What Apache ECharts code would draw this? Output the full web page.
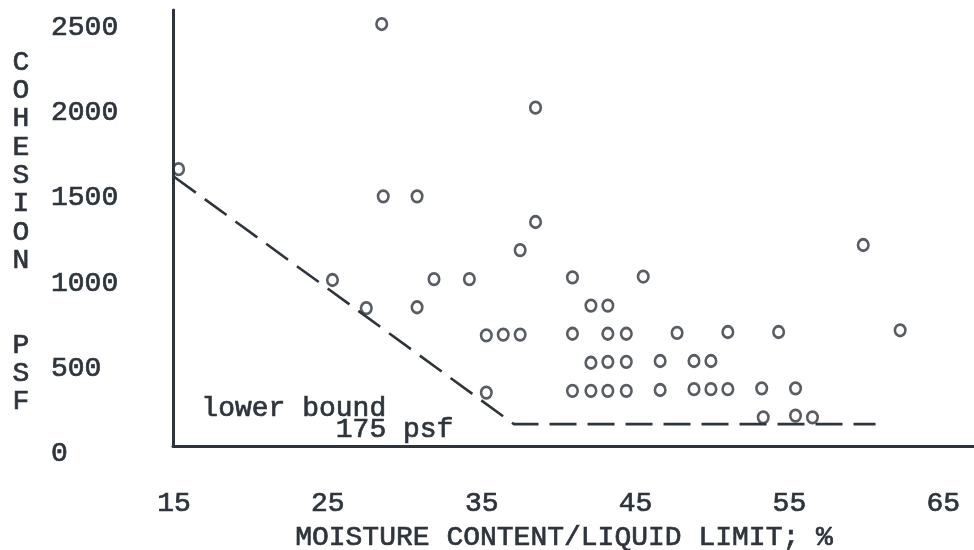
<!DOCTYPE html>
<html>
<head>
<meta charset="utf-8">
<title>Cohesion vs moisture content</title>
<script src="https://cdn.jsdelivr.net/npm/echarts@6/dist/echarts.min.js"></script>
<style>
  html, body { margin: 0; padding: 0; background: #ffffff; }
  #chart { width: 974px; height: 550px; }
</style>
</head>
<body>
<div id="chart"></div>
<script>
// Moisture content / liquid limit (%) of each test
const moisture = [
  15.3, 28.5, 38.5, 28.6, 30.8, 38.5, 37.5,
  25.3, 31.9, 34.2, 40.9, 45.5, 59.8,
  27.5, 30.8, 42.1, 43.2,
  35.3, 36.4, 37.5, 40.9, 43.2, 44.4, 47.7, 51.0, 54.3, 62.2,
  42.1, 43.2, 44.4, 46.6, 48.8, 49.9,
  40.9, 42.1, 43.2, 44.4, 46.6, 48.8, 49.9, 51.0, 53.2, 55.4, 35.3,
  53.3, 55.4, 56.5
];
// Cohesion (psf) of each test, same order
const cohesion = [
  1670, 2520, 2030, 1510, 1510, 1360, 1195,
  1020, 1025, 1025, 1035, 1040, 1225,
  855, 860, 870, 870,
  695, 700, 700, 705, 705, 705, 710, 715, 715, 725,
  535, 540, 540, 545, 545, 545,
  370, 370, 370, 370, 375, 380, 380, 380, 385, 385, 360,
  215, 225, 215
];
// Lower-bound envelope: falling branch, then the 175 psf floor
const boundMoisture = [15, 37.1, 60.6];
const boundCohesion = [1625, 175, 175];

const xTicks = [15, 25, 35, 45, 55, 65];
const yTicks = [0, 500, 1000, 1500, 2000, 2500];

const INK = '#2e343c';
const MONO = '"Liberation Mono", "DejaVu Sans Mono", monospace';
// typed characters: monospace with a light outline for a heavier ink stroke
const typed = { color: INK, fontFamily: MONO, fontSize: 28, textBorderColor: INK, textBorderWidth: 0.7 };

const points = moisture.map((m, i) => [m, cohesion[i]]);
const bound = boundMoisture.map((m, i) => [m, boundCohesion[i]]);

const chart = echarts.init(document.getElementById('chart'), null, { renderer: 'canvas' });

chart.setOption({
  backgroundColor: '#ffffff',
  animation: false,
  grid: [
    // plotting grid: 0 psf sits on the lowest tick label
    { left: 174, right: 0, top: 10.4, bottom: 96, containLabel: false, outerBoundsMode: 'none' },
    // frame grid carrying the two drawn axis lines
    { left: 173, right: 0, top: 10, bottom: 104, containLabel: false, outerBoundsMode: 'none' }
  ],
  xAxis: [
    {
      type: 'value', gridIndex: 0, min: 15, max: 67, interval: 5,
      axisLine: { show: false }, axisTick: { show: false }, splitLine: { show: false },
      axisLabel: Object.assign({}, typed, {
        margin: 50, lineHeight: 28, verticalAlign: 'middle',
        formatter: v => xTicks.includes(v) ? String(v) : ''
      }),
      name: 'MOISTURE CONTENT/LIQUID LIMIT; %',
      nameLocation: 'middle', nameGap: 78,
      nameTextStyle: Object.assign({}, typed, {
        lineHeight: 28, verticalAlign: 'middle', align: 'center', padding: [0, 20, 0, 0]
      })
    },
    {
      type: 'value', gridIndex: 1, min: 15, max: 67,
      axisLine: { show: true, lineStyle: { color: INK, width: 3 } },
      axisTick: { show: false }, axisLabel: { show: false }, splitLine: { show: false }
    }
  ],
  yAxis: [
    {
      type: 'value', gridIndex: 0, min: 0, max: 2600, interval: 500,
      axisLine: { show: false }, axisTick: { show: false }, splitLine: { show: false },
      axisLabel: Object.assign({}, typed, {
        margin: 123, align: 'left',
        formatter: v => yTicks.includes(v) ? String(v) : ''
      }),
      name: 'C\nO\nH\nE\nS\nI\nO\nN\n\n\nP\nS\nF',
      nameLocation: 'middle', nameGap: 153, nameRotate: 0,
      nameTextStyle: Object.assign({}, typed, {
        lineHeight: 28.3, align: 'center', verticalAlign: 'middle', padding: [0, 0, 18, 0]
      })
    },
    {
      type: 'value', gridIndex: 1, min: 0, max: 1,
      axisLine: { show: true, lineStyle: { color: INK, width: 3 } },
      axisTick: { show: false }, axisLabel: { show: false }, splitLine: { show: false }
    }
  ],
  series: [
    {
      name: 'lower bound',
      type: 'line',
      xAxisIndex: 0, yAxisIndex: 0,
      data: bound,
      symbol: 'none',
      lineStyle: { color: INK, width: 2.6, type: [27, 11] },
      z: 2
    },
    {
      name: 'tests',
      type: 'scatter',
      xAxisIndex: 0, yAxisIndex: 0,
      data: points,
      symbol: 'circle',
      symbolSize: [10.5, 11.5],
      itemStyle: { color: 'rgba(0,0,0,0)', borderColor: INK, borderWidth: 2.7 },
      z: 3
    }
  ],
  graphic: [
    {
      type: 'text',
      left: 201, top: 394,
      style: {
        text: 'lower bound\n        175 psf',
        fill: INK,
        stroke: INK,
        lineWidth: 0.7,
        font: '28px ' + MONO,
        lineHeight: 21,
        verticalAlign: 'top'
      }
    }
  ]
});
</script>
</body>
</html>
